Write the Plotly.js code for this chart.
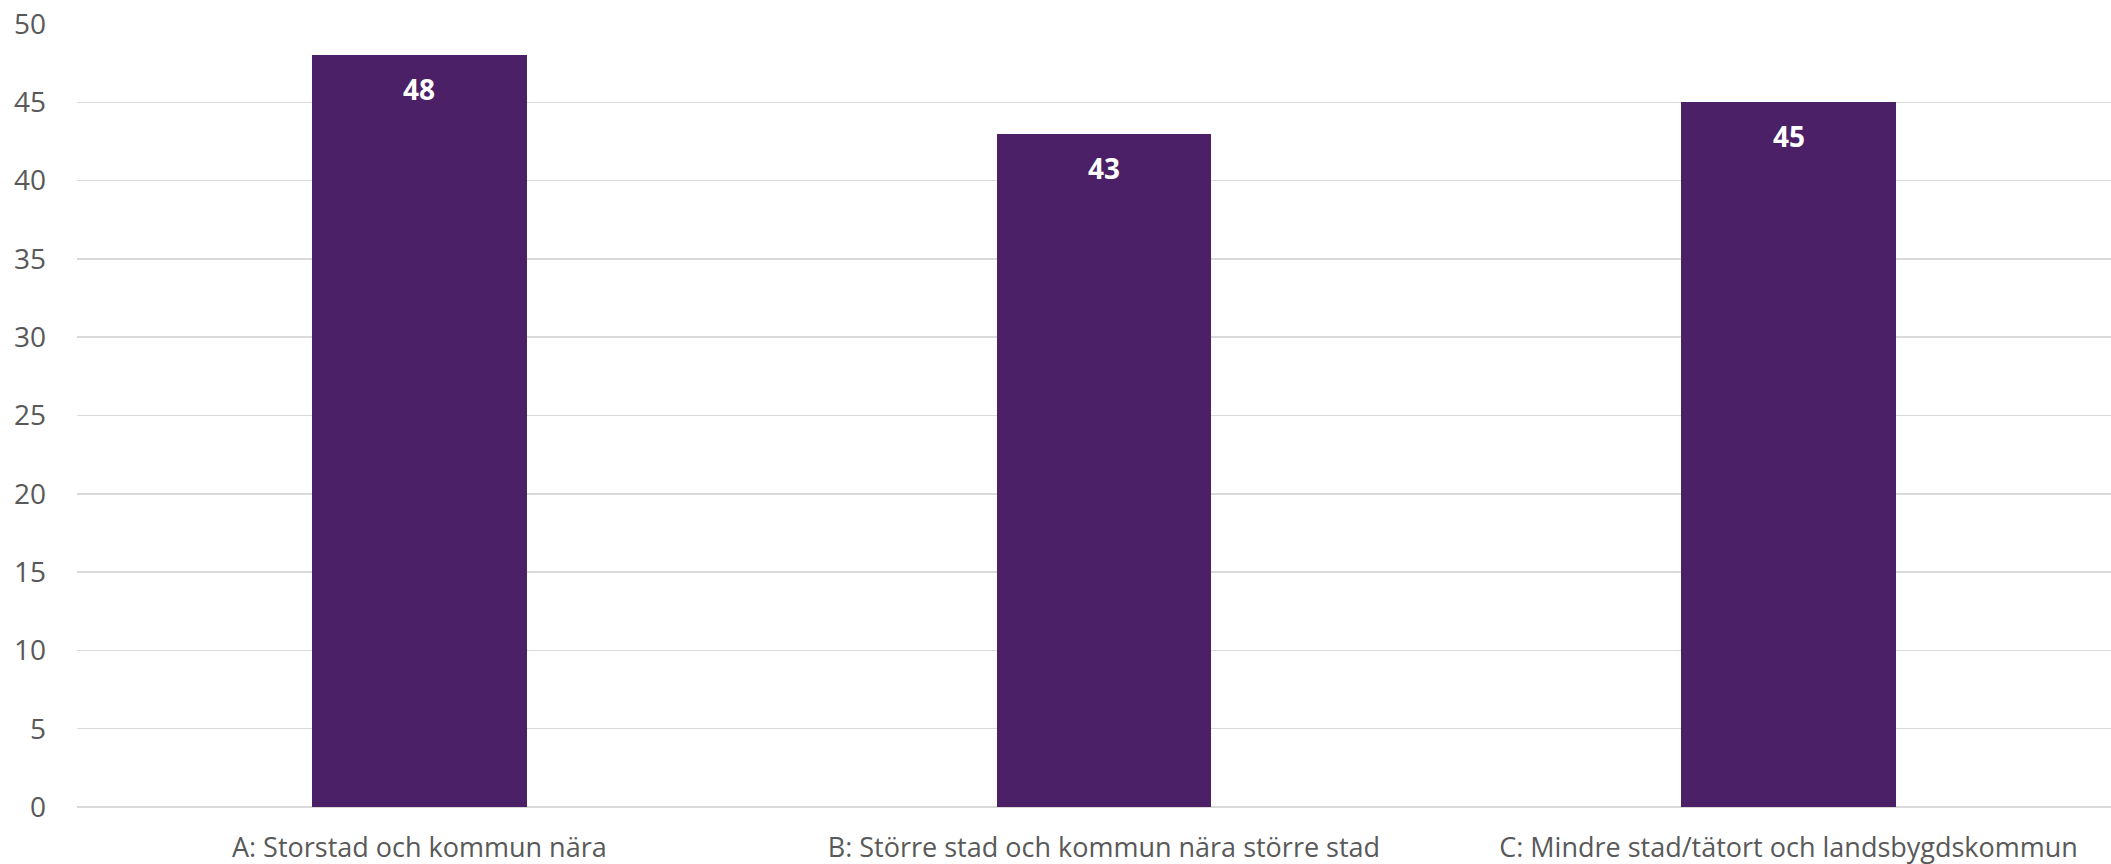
<!DOCTYPE html>
<html>
<head>
<meta charset="utf-8">
<script src="https://cdn.plot.ly/plotly-3.0.1.min.js"></script>
<style>html,body{margin:0;padding:0;background:#fff;}#chart{width:2111px;height:864px;}</style>
</head>
<body>
<div id="chart"></div>
<script>
const categories = ["A: Storstad och kommun nära", "B: Större stad och kommun nära större stad", "C: Mindre stad/tätort och landsbygdskommun"];
const values = [48, 43, 45];
const yTicks = [0, 5, 10, 15, 20, 25, 30, 35, 40, 45, 50];

const FONT = "Open Sans, Noto Sans, sans-serif";
const barColor = "#4b2066";

const trace = {
  type: "bar",
  x: categories,
  y: values,
  width: 0.3136,
  marker: {color: barColor, line: {width: 0}},
  hoverinfo: "none"
};

const annotations = categories.map((c, i) => ({
  x: c, y: values[i], xref: "x", yref: "y",
  text: "<b>" + values[i] + "</b>",
  showarrow: false, yanchor: "middle", xanchor: "center", yshift: -34,
  font: {family: FONT, size: 28, color: "#ffffff"}
}));

const layout = {
  width: 2111, height: 864,
  margin: {l: 77, r: 0, t: 24, b: 57, pad: 0},
  paper_bgcolor: "#ffffff", plot_bgcolor: "#ffffff",
  showlegend: false,
  bargap: 0,
  xaxis: {
    type: "category",
    range: [-0.5, 2.471],
    showgrid: false, zeroline: false, showline: false,
    ticks: "", ticklabelstandoff: 22,
    tickfont: {family: FONT, size: 27, color: "#595959"}
  },
  yaxis: {
    range: [0, 50],
    tickvals: yTicks,
    ticktext: yTicks.map(String),
    showgrid: true, gridcolor: "#d9d9d9", gridwidth: 1.5,
    zeroline: true, zerolinecolor: "#d9d9d9", zerolinewidth: 1.5,
    showline: false, ticks: "", ticklabelstandoff: 30,
    tickfont: {family: FONT, size: 28, color: "#595959"}
  },
  annotations: annotations
};

Plotly.newPlot("chart", [trace], layout, {displayModeBar: false, staticPlot: true});
</script>
</body>
</html>
